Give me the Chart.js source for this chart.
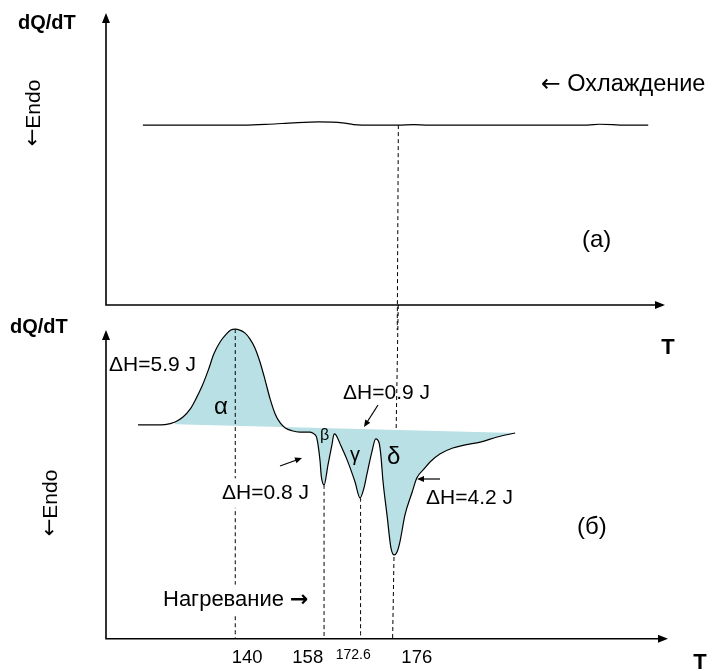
<!DOCTYPE html>
<html>
<head>
<meta charset="utf-8">
<script src="https://cdn.jsdelivr.net/npm/chart.js"></script>
<style>
    html, body { margin: 0; background: #fff; overflow: hidden; }
    #wrap { position: relative; width: 713px; height: 671px; overflow: hidden; }
    canvas { position: absolute; left: 0; }
    #cool { top: 0; }
    #heat { top: 300px; }
</style>
</head>
<body>
<div id="wrap">
    <canvas id="cool" width="713" height="440"></canvas>
    <canvas id="heat" width="713" height="379"></canvas>
</div>
<script>
// x = position along the (schematic) T axis, 0..100; y = dQ/dT, arbitrary units 0..100

// (a) cooling run
const coolX = [6.6, 24.7, 29.2, 33.6, 38.1, 42.3, 44.3, 47.9, 52.3, 55.0, 57.7, 86.1, 88.3, 90.6, 92.4, 97.0];
const coolY = [61.6, 61.6, 61.9, 62.4, 62.7, 62.4, 61.8, 61.6, 61.6, 61.8, 61.6, 61.6, 61.9, 61.8, 61.6, 61.6];
const coolMarkX = [52.3, 52.1];
const coolMarkY = [61.6, -8.6];

// (б) heating run
const heatX = [5.7, 8.7, 10.5, 12.3, 13.7, 15.0, 16.0, 17.1, 18.2, 19.2, 20.3, 21.4, 22.2, 23.0, 23.8,
    24.7, 25.6, 26.5, 27.4, 28.3, 29.2, 30.1, 31.0, 31.9, 33.1, 34.5, 36.3, 37.0, 37.5, 38.1,
    38.3, 38.8, 39.5, 40.2, 40.6, 40.9, 41.8, 42.9, 44.3, 45.2, 45.9, 46.4, 47.3, 48.0, 48.6,
    48.9, 49.3, 50.0, 50.7, 51.3, 51.8, 52.3, 53.2, 54.5, 55.3, 56.6, 57.7, 59.4, 61.7, 63.9,
    66.6, 69.6, 72.8];
const heatY = [68.4, 68.4, 68.5, 69.3, 70.9, 73.5, 76.7, 80.8, 85.9, 91.1, 94.9, 97.4, 98.7, 99.0, 98.7,
    97.8, 95.9, 93.0, 88.5, 82.8, 76.7, 71.9, 69.0, 67.4, 66.5, 66.1, 66.1, 65.5, 64.2, 56.6,
    52.1, 49.2, 55.6, 62.0, 65.5, 65.2, 61.7, 57.2, 50.2, 45.0, 48.2, 52.4, 59.7, 63.9, 62.6,
    58.8, 50.2, 39.6, 29.1, 26.8, 27.8, 31.0, 39.6, 47.0, 51.4, 54.3, 56.6, 59.1, 61.0, 62.0,
    62.9, 64.5, 65.8];
const baseX = [12.3, 72.8];
const baseY = [68.6, 65.8];

// peaks alpha, beta, gamma, delta: dashed drop lines
const peakX = [23.0, 38.8, 45.3, 51.0];
const peakY = [99.0, 49.2, 45.0, 106.7];

const tickPos = [25.1, 35.9, 44.0, 55.3];
const tickLabels = ['140', '158', '172.6', '176'];

const FONT = '"Liberation Sans", Arial, sans-serif';
const ARROW_FONT = '"DejaVu Sans", sans-serif';
const FILL = '#b9e0e4';

function pts(xs, ys) {
    return xs.map((x, i) => ({ x: x, y: ys[i] }));
}

// draws a label; arrow characters use DejaVu so they come out full size
function text(ctx, s, x, y, size, opts) {
    opts = opts || {};
    ctx.save();
    ctx.textBaseline = 'middle';
    ctx.textAlign = 'left';
    const parts = s.split(/([\u2190\u2192])/).filter(r => r).map(r => {
        const isArrow = /[\u2190\u2192]/.test(r);
        const bold = isArrow ? opts.boldArrow : opts.bold;
        const font = (bold ? 'bold ' : '') + size + 'px ' + (isArrow ? ARROW_FONT : FONT);
        ctx.font = font;
        return { r: r, font: font, w: ctx.measureText(r).width };
    });
    const total = parts.reduce((t, p) => t + p.w, 0);
    ctx.translate(x, y);
    if (opts.rotate) ctx.rotate(opts.rotate);
    let cx = opts.align === 'center' ? -total / 2 : 0;
    if (opts.box) {
        ctx.fillStyle = '#fff';
        ctx.fillRect(cx - 4, -size * 0.7, total + 8, size * 1.4);
    }
    ctx.fillStyle = '#000';
    parts.forEach(p => {
        ctx.font = p.font;
        ctx.fillText(p.r, cx, 0);
        cx += p.w;
    });
    ctx.restore();
}

function pointer(ctx, x1, y1, x2, y2) {
    const a = Math.atan2(y2 - y1, x2 - x1);
    ctx.save();
    ctx.strokeStyle = '#000';
    ctx.fillStyle = '#000';
    ctx.lineWidth = 1.2;
    ctx.beginPath();
    ctx.moveTo(x1, y1);
    ctx.lineTo(x2 - 5 * Math.cos(a), y2 - 5 * Math.sin(a));
    ctx.stroke();
    ctx.translate(x2, y2);
    ctx.rotate(a);
    ctx.beginPath();
    ctx.moveTo(0, 0);
    ctx.lineTo(-7, -3);
    ctx.lineTo(-7, 3);
    ctx.closePath();
    ctx.fill();
    ctx.restore();
}

function arrowAxes(chart, tipInset) {
    const ctx = chart.ctx;
    const a = chart.chartArea;
    const top = a.top + tipInset;
    ctx.save();
    ctx.strokeStyle = '#000';
    ctx.fillStyle = '#000';
    ctx.lineWidth = 1.6;
    ctx.beginPath();
    ctx.moveTo(a.left, top + 6);
    ctx.lineTo(a.left, a.bottom);
    ctx.lineTo(a.right - 6, a.bottom);
    ctx.stroke();
    ctx.beginPath();
    ctx.moveTo(a.left, top);
    ctx.lineTo(a.left - 4, top + 10);
    ctx.lineTo(a.left + 4, top + 10);
    ctx.closePath();
    ctx.fill();
    ctx.beginPath();
    ctx.moveTo(a.right, a.bottom);
    ctx.lineTo(a.right - 10, a.bottom - 4);
    ctx.lineTo(a.right - 10, a.bottom + 4);
    ctx.closePath();
    ctx.fill();
    ctx.restore();
}

const dashed = { borderColor: '#000', borderWidth: 1, borderDash: [4, 3], pointRadius: 0, fill: false, clip: false };

const baseOptions = {
    responsive: false,
    animation: false,
    devicePixelRatio: 1,
    plugins: { legend: { display: false }, tooltip: { enabled: false } },
    elements: { line: { cubicInterpolationMode: 'monotone' }, point: { radius: 0 } }
};

// (a) cooling chart
new Chart(document.getElementById('cool'), {
    type: 'line',
    data: {
        datasets: [
            { data: pts(coolX, coolY), borderColor: '#000', borderWidth: 1.2, fill: false, order: 0 },
            Object.assign({ data: pts(coolMarkX, coolMarkY), order: 1 }, dashed)
        ]
    },
    options: Object.assign({}, baseOptions, {
        layout: { padding: { left: 106, right: 48, top: 13, bottom: 135 } },
        scales: {
            x: { type: 'linear', min: 0, max: 100, display: false },
            y: { min: 0, max: 100, display: false }
        }
    }),
    plugins: [{
        id: 'coolDecor',
        afterDatasetsDraw(chart) {
            const ctx = chart.ctx;
            arrowAxes(chart, 0);
            text(ctx, 'dQ/dT', 18, 23, 20, { bold: true });
            text(ctx, '\u2190Endo', 34, 113, 21, { rotate: -Math.PI / 2, align: 'center' });
            text(ctx, '\u2190 Охлаждение', 541, 85, 23.5);
            text(ctx, '(а)', 582, 240, 24);
            text(ctx, 'T', 668, 348, 22, { bold: true, align: 'center' });
        }
    }]
});

// (б) heating chart
const fillPts = pts(heatX, heatY).filter(p => p.x >= baseX[0]);

new Chart(document.getElementById('heat'), {
    type: 'line',
    data: {
        datasets: [
            Object.assign({ data: [{ x: peakX[0], y: peakY[0] }, { x: peakX[0], y: 0 }], order: 0 }, dashed),
            { data: pts(heatX, heatY), borderColor: '#000', borderWidth: 1.2, fill: false, clip: false, order: 1 },
            Object.assign({ data: [{ x: peakX[1], y: peakY[1] }, { x: peakX[1], y: 0 }], order: 1 }, dashed),
            Object.assign({ data: [{ x: peakX[2], y: peakY[2] }, { x: peakX[2], y: 0 }], order: 1 }, dashed),
            { data: fillPts, borderWidth: 0, borderColor: 'rgba(0,0,0,0)', backgroundColor: FILL,
              fill: { target: 5, above: FILL, below: FILL }, order: 2 },
            { data: pts(baseX, baseY), borderWidth: 0, borderColor: 'rgba(0,0,0,0)', fill: false,
              cubicInterpolationMode: 'default', tension: 0, order: 3 },
            Object.assign({ data: [{ x: peakX[3] + 1, y: peakY[3] }, { x: peakX[3], y: 0 }], order: 4 }, dashed)
        ]
    },
    options: Object.assign({}, baseOptions, {
        layout: { padding: { left: 106, right: 45, top: 26, bottom: 2 } },
        scales: {
            x: {
                type: 'linear', min: 0, max: 100, display: true,
                grid: { display: false, drawTicks: false },
                border: { display: false },
                afterBuildTicks: s => { s.ticks = tickPos.map(v => ({ value: v })); },
                ticks: {
                    autoSkip: false, maxRotation: 0, padding: 8, color: '#000',
                    font: c => ({ family: FONT, size: tickLabels[c.index] === '172.6' ? 14 : 18.5 }),
                    callback: (v, i) => tickLabels[i]
                }
            },
            y: { min: 0, max: 100, display: false }
        }
    }),
    plugins: [{
        id: 'heatDecor',
        afterDatasetsDraw(chart) {
            const ctx = chart.ctx;
            const o = -300; // canvas sits 300px down the page
            arrowAxes(chart, 4);
            text(ctx, 'dQ/dT', 10, 327 + o, 20, { bold: true });
            text(ctx, '\u2190Endo', 51, 503 + o, 21, { rotate: -Math.PI / 2, align: 'center' });
            text(ctx, 'ΔH=5.9 J', 109, 365 + o, 21);
            text(ctx, 'α', 214, 407 + o, 24);
            text(ctx, 'ΔH=0.9 J', 343, 393 + o, 21);
            pointer(ctx, 378, 405 + o, 364, 427 + o);
            text(ctx, 'β', 320, 436 + o, 16);
            text(ctx, 'γ', 350, 455 + o, 20);
            text(ctx, 'δ', 387, 457 + o, 24);
            pointer(ctx, 280, 466 + o, 302, 458 + o);
            text(ctx, 'ΔH=0.8 J', 222, 493 + o, 21, { box: true });
            text(ctx, 'ΔH=4.2 J', 426, 498 + o, 21);
            pointer(ctx, 440, 479 + o, 417, 479 + o);
            text(ctx, '(б)', 577, 527 + o, 24);
            text(ctx, 'Нагревание \u2192', 163, 600 + o, 22, { box: true, boldArrow: true });
            text(ctx, 'T', 700, 663 + o, 22, { bold: true, align: 'center' });
        }
    }]
});
</script>
</body>
</html>
